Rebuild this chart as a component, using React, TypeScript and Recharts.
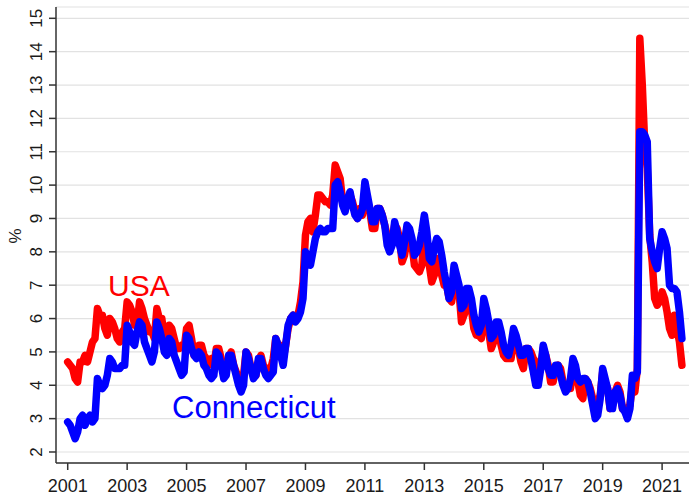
import { LineChart, Line, XAxis, YAxis, CartesianGrid } from "recharts";

// monthly unemployment rate, not seasonally adjusted, Jan 2001 - Sep 2021
const startYear = 2001;

const usaRate = [
  4.7, 4.6, 4.5, 4.2, 4.1, 4.7, 4.7, 4.9, 4.7, 5.0, 5.3, 5.4,
  6.3, 6.1, 6.1, 5.7, 5.5, 6.0, 5.9, 5.7, 5.4, 5.3, 5.6, 5.7,
  6.5, 6.4, 6.2, 5.8, 5.8, 6.5, 6.3, 6.0, 5.8, 5.6, 5.6, 5.4,
  6.3, 6.0, 6.0, 5.4, 5.3, 5.8, 5.7, 5.4, 5.1, 5.1, 5.2, 5.1,
  5.7, 5.8, 5.4, 4.9, 4.9, 5.2, 5.2, 4.9, 4.8, 4.6, 4.8, 4.6,
  5.1, 5.1, 4.8, 4.5, 4.4, 4.8, 5.0, 4.6, 4.4, 4.1, 4.3, 4.3,
  5.0, 4.9, 4.5, 4.3, 4.3, 4.7, 4.9, 4.6, 4.5, 4.4, 4.5, 4.8,
  5.4, 5.2, 5.2, 4.8, 5.2, 5.7, 6.0, 6.1, 6.0, 6.1, 6.5, 7.1,
  8.5, 8.9, 9.0, 8.6, 9.1, 9.7, 9.7, 9.6, 9.5, 9.5, 9.4, 9.7,
  10.6, 10.4, 10.2, 9.5, 9.3, 9.6, 9.7, 9.5, 9.2, 9.0, 9.3, 9.1,
  9.8, 9.5, 9.2, 8.7, 8.7, 9.3, 9.3, 9.1, 8.8, 8.5, 8.2, 8.3,
  8.8, 8.7, 8.4, 7.7, 7.9, 8.4, 8.6, 8.2, 7.6, 7.5, 7.4, 7.6,
  8.5, 8.1, 7.6, 7.1, 7.3, 7.8, 7.7, 7.3, 7.0, 7.0, 6.6, 6.5,
  7.0, 7.0, 6.8, 5.9, 6.1, 6.3, 6.5, 6.3, 5.7, 5.5, 5.5, 5.4,
  6.1, 5.8, 5.6, 5.1, 5.3, 5.5, 5.6, 5.2, 4.9, 4.8, 4.8, 4.8,
  5.3, 5.2, 5.1, 4.7, 4.5, 5.1, 5.1, 5.0, 4.8, 4.7, 4.4, 4.5,
  5.1, 4.9, 4.6, 4.1, 4.1, 4.5, 4.6, 4.5, 4.1, 3.9, 3.9, 3.9,
  4.5, 4.4, 4.1, 3.7, 3.6, 4.2, 4.1, 3.9, 3.6, 3.5, 3.5, 3.7,
  4.4, 4.1, 3.9, 3.3, 3.4, 3.8, 4.0, 3.8, 3.3, 3.3, 3.3, 3.4,
  4.0, 3.8, 4.5, 14.4, 13.0, 11.2, 10.5, 8.5, 7.7, 6.6, 6.4, 6.5,
  6.8, 6.6, 6.2, 5.7, 5.5, 6.1, 5.7, 5.3, 4.6,
];

const ctRate = [
  2.9, 2.8, 2.6, 2.4, 2.6, 3.0, 3.1, 2.8, 3.0, 3.1, 2.9, 3.0,
  4.2, 4.0, 3.9, 4.0, 4.3, 4.8, 4.7, 4.5, 4.5, 4.5, 4.6, 4.6,
  5.8, 5.6, 5.3, 5.2, 5.6, 5.9, 5.8, 5.3, 5.1, 4.9, 4.7, 5.0,
  5.9, 5.7, 5.4, 5.0, 4.9, 5.4, 5.3, 4.9, 4.7, 4.5, 4.3, 4.4,
  5.5, 5.4, 5.1, 4.9, 4.8, 5.0, 4.9, 4.6, 4.5, 4.3, 4.2, 4.3,
  5.0, 4.9, 4.6, 4.2, 4.3, 4.9, 4.9, 4.6, 4.3, 4.0, 3.8, 4.0,
  5.0, 4.8, 4.5, 4.2, 4.3, 4.8, 4.8, 4.5, 4.3, 4.2, 4.3, 4.4,
  5.4, 5.2, 4.9, 4.6, 5.2, 5.8, 6.0, 6.1, 5.9, 6.0, 6.2, 6.6,
  8.0, 7.8, 7.6, 8.0, 8.4, 8.6, 8.7, 8.6, 8.6, 8.7, 8.7, 8.7,
  10.0, 10.1, 9.8, 9.4, 9.2, 9.6, 9.8, 9.4, 9.1, 9.0, 9.1, 9.3,
  10.1, 9.7, 9.3, 8.9, 8.9, 9.3, 9.3, 9.1, 8.8, 8.2, 8.0, 8.2,
  8.9, 8.6, 8.2, 7.9, 8.3, 8.8, 8.7, 8.4, 7.9, 8.0, 8.2, 8.6,
  9.1, 8.6, 7.8, 7.7, 8.1, 8.4, 8.3, 7.9, 7.4, 7.0, 6.6, 6.8,
  7.6, 7.3, 7.0, 6.3, 6.4, 6.9, 6.9, 6.6, 6.1, 5.8, 5.6, 5.8,
  6.6, 6.3, 5.9, 5.4, 5.5, 5.9, 5.9, 5.6, 5.2, 5.0, 4.9, 5.2,
  5.7, 5.5, 5.2, 4.9, 4.9, 5.1, 5.1, 4.8, 4.4, 4.0, 4.0, 4.5,
  5.2, 4.9, 4.5, 4.3, 4.3, 4.6, 4.6, 4.3, 4.0, 3.8, 3.9, 4.2,
  4.8, 4.6, 4.2, 4.1, 4.2, 4.2, 4.1, 3.8, 3.4, 3.0, 3.1, 3.6,
  4.5, 4.2, 3.9, 3.3, 3.3, 3.8, 3.9, 3.7, 3.3, 3.2, 3.0, 3.3,
  4.3, 4.2, 4.4, 11.6, 11.6, 11.5, 11.3, 8.4, 8.0, 7.7, 7.5, 8.1,
  8.6, 8.4, 8.1, 7.0, 6.9, 6.9, 6.8, 6.2, 5.4,
];

const xTicks = [2001, 2003, 2005, 2007, 2009, 2011, 2013, 2015, 2017, 2019, 2021];
const yTicks = [2, 3, 4, 5, 6, 7, 8, 9, 10, 11, 12, 13, 14, 15];

const data = usaRate.map((v, i) => ({
  t: startYear + i / 12,
  usa: v,
  ct: ctRate[i],
}));

const FONT = "'Liberation Sans', Arial, Helvetica, sans-serif";
const AXIS = "#333";

function YTick(props: any) {
  const { x, y, payload } = props;
  return (
    <text
      x={x}
      y={y}
      transform={`rotate(-90 ${x} ${y})`}
      textAnchor="middle"
      fontSize={17}
      fontFamily={FONT}
      fill="#1a1a1a"
    >
      {payload.value}
    </text>
  );
}

function XTick(props: any) {
  const { x, y, payload } = props;
  return (
    <text x={x} y={y + 22} textAnchor="middle" fontSize={18} fontFamily={FONT} fill="#1a1a1a">
      {payload.value}
    </text>
  );
}

export default function App() {
  return (
    <div style={{ position: "absolute", left: 0, top: 0, width: 690, height: 495, background: "#fff" }}>
      <LineChart width={690} height={495} data={data} margin={{ top: 7, right: 1, bottom: 0, left: 0 }}>
        <CartesianGrid vertical={false} stroke="#e2e2e2" strokeWidth={1.2} />
        <XAxis
          dataKey="t"
          type="number"
          domain={[2000.606, 2021.905]}
          allowDataOverflow
          ticks={xTicks}
          height={32}
          tickSize={7}
          tickMargin={0}
          tick={<XTick />}
          stroke={AXIS}
          strokeWidth={1.5}
          interval={0}
        />
        <XAxis
          xAxisId="top"
          orientation="top"
          dataKey="t"
          type="number"
          domain={[2000.606, 2021.905]}
          height={0}
          tick={false}
          tickLine={false}
          stroke={AXIS}
          strokeWidth={1.5}
        />
        <YAxis
          type="number"
          domain={[1.67, 15.339]}
          allowDataOverflow
          ticks={yTicks}
          width={56}
          tickSize={7}
          tickMargin={7}
          tick={<YTick />}
          stroke={AXIS}
          strokeWidth={1.5}
          interval={0}
        />
        <Line
          type="linear"
          dataKey="usa"
          stroke="#ff0000"
          strokeWidth={7.5}
          strokeLinejoin="round"
          strokeLinecap="round"
          dot={false}
          isAnimationActive={false}
        />
        <Line
          type="linear"
          dataKey="ct"
          stroke="#0000ff"
          strokeWidth={7.5}
          strokeLinejoin="round"
          strokeLinecap="round"
          dot={false}
          isAnimationActive={false}
        />
      </LineChart>
      <svg
        width={690}
        height={495}
        style={{ position: "absolute", left: 0, top: 0, pointerEvents: "none" }}
      >
        <text x={21} y={236} transform="rotate(-90 21 236)" textAnchor="middle" fontSize={17} fontFamily={FONT} fill="#1a1a1a">
          %
        </text>
        <text x={108} y={296} fontSize={30} fontFamily={FONT} fill="#ff0000">
          USA
        </text>
        <text x={172} y={418} fontSize={31} fontFamily={FONT} fill="#0000ff">
          Connecticut
        </text>
      </svg>
    </div>
  );
}
